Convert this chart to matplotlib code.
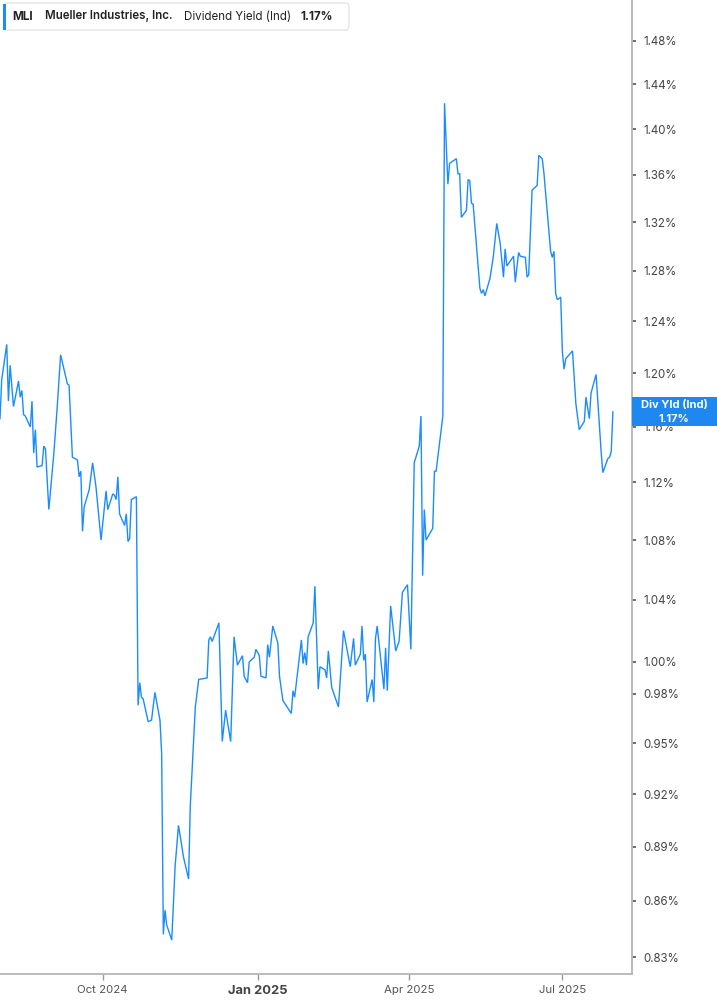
import matplotlib
matplotlib.use("Agg")
import matplotlib.pyplot as plt
import matplotlib.dates as mdates
from matplotlib.patches import FancyBboxPatch, Rectangle
from matplotlib.ticker import FixedLocator, FuncFormatter, NullLocator
import pandas as pd

plt.rcParams['font.family'] = ['Inter', 'DejaVu Sans']

# ---------------- data ----------------
dates = [
    "2024-08-01", "2024-08-02", "2024-08-05", "2024-08-06", "2024-08-07", "2024-08-09",
    "2024-08-12", "2024-08-13", "2024-08-14", "2024-08-15", "2024-08-16", "2024-08-19",
    "2024-08-20", "2024-08-21", "2024-08-22", "2024-08-23", "2024-08-26", "2024-08-27",
    "2024-08-28", "2024-08-30", "2024-09-02", "2024-09-04", "2024-09-06", "2024-09-10",
    "2024-09-11", "2024-09-13", "2024-09-16", "2024-09-17", "2024-09-18", "2024-09-19",
    "2024-09-20", "2024-09-23", "2024-09-25", "2024-09-27", "2024-09-30", "2024-10-03",
    "2024-10-04", "2024-10-07", "2024-10-08", "2024-10-09", "2024-10-10", "2024-10-11",
    "2024-10-14", "2024-10-15", "2024-10-16", "2024-10-17", "2024-10-18", "2024-10-21",
    "2024-10-22", "2024-10-23", "2024-10-24", "2024-10-25", "2024-10-28", "2024-10-30",
    "2024-11-01", "2024-11-04", "2024-11-05", "2024-11-06", "2024-11-07", "2024-11-08",
    "2024-11-11", "2024-11-13", "2024-11-15", "2024-11-18", "2024-11-21", "2024-11-22",
    "2024-11-25", "2024-11-27", "2024-12-02", "2024-12-03", "2024-12-04", "2024-12-05",
    "2024-12-09", "2024-12-11", "2024-12-13", "2024-12-16", "2024-12-18", "2024-12-20",
    "2024-12-23", "2024-12-24", "2024-12-26", "2024-12-27", "2024-12-30", "2024-12-31",
    "2025-01-02", "2025-01-03", "2025-01-06", "2025-01-07", "2025-01-08", "2025-01-10",
    "2025-01-13", "2025-01-14", "2025-01-16", "2025-01-21", "2025-01-22", "2025-01-23",
    "2025-01-27", "2025-01-28", "2025-01-29", "2025-01-30", "2025-01-31", "2025-02-03",
    "2025-02-04", "2025-02-06", "2025-02-07", "2025-02-10", "2025-02-11", "2025-02-12",
    "2025-02-14", "2025-02-18", "2025-02-21", "2025-02-25", "2025-02-27", "2025-02-28",
    "2025-03-03", "2025-03-04", "2025-03-05", "2025-03-06", "2025-03-07", "2025-03-10",
    "2025-03-11", "2025-03-12", "2025-03-13", "2025-03-17", "2025-03-18", "2025-03-19",
    "2025-03-21", "2025-03-24", "2025-03-26", "2025-03-28", "2025-03-31", "2025-04-02",
    "2025-04-04", "2025-04-07", "2025-04-08", "2025-04-09", "2025-04-10", "2025-04-11",
    "2025-04-15", "2025-04-16", "2025-04-17", "2025-04-21", "2025-04-22", "2025-04-24",
    "2025-04-25", "2025-04-29", "2025-04-30", "2025-05-01", "2025-05-02", "2025-05-05",
    "2025-05-06", "2025-05-07", "2025-05-08", "2025-05-09", "2025-05-13", "2025-05-14",
    "2025-05-15", "2025-05-16", "2025-05-19", "2025-05-21", "2025-05-23", "2025-05-25",
    "2025-05-27", "2025-05-28", "2025-05-29", "2025-06-02", "2025-06-03", "2025-06-05",
    "2025-06-06", "2025-06-09", "2025-06-10", "2025-06-11", "2025-06-13", "2025-06-16",
    "2025-06-17", "2025-06-19", "2025-06-20", "2025-06-24", "2025-06-25", "2025-06-26",
    "2025-06-27", "2025-06-28", "2025-06-30", "2025-07-01", "2025-07-02", "2025-07-03",
    "2025-07-07", "2025-07-09", "2025-07-11", "2025-07-14", "2025-07-15", "2025-07-17",
    "2025-07-18", "2025-07-21", "2025-07-24", "2025-07-25", "2025-07-28", "2025-07-29",
    "2025-07-30", "2025-07-31",
]

div_yield = [
    1.166, 1.195, 1.222, 1.179, 1.206, 1.175,
    1.194, 1.182, 1.187, 1.169, 1.168, 1.160,
    1.179, 1.141, 1.158, 1.131, 1.132, 1.146,
    1.144, 1.101, 1.141, 1.175, 1.214, 1.192,
    1.191, 1.138, 1.136, 1.124, 1.128, 1.086,
    1.103, 1.115, 1.134, 1.117, 1.080, 1.114,
    1.101, 1.112, 1.111, 1.108, 1.124, 1.098,
    1.090, 1.098, 1.079, 1.081, 1.108, 1.110,
    0.973, 0.987, 0.978, 0.977, 0.963, 0.964,
    0.981, 0.964, 0.944, 0.842, 0.855, 0.847,
    0.839, 0.879, 0.902, 0.884, 0.872, 0.913,
    0.972, 0.989, 0.990, 1.014, 1.016, 1.013,
    1.025, 0.951, 0.970, 0.951, 1.016, 0.998,
    1.004, 0.991, 0.987, 1.000, 1.003, 1.008,
    1.004, 0.991, 0.990, 1.011, 1.003, 1.023,
    1.012, 0.991, 0.976, 0.968, 0.982, 0.978,
    1.014, 0.999, 1.006, 0.998, 1.016, 1.025,
    1.049, 0.983, 0.997, 0.995, 0.990, 1.007,
    0.984, 0.972, 1.020, 0.997, 1.015, 0.998,
    1.005, 1.023, 1.001, 1.005, 0.975, 0.989,
    0.975, 1.015, 1.023, 0.983, 1.009, 0.982,
    1.036, 1.007, 1.013, 1.045, 1.050, 1.008,
    1.134, 1.146, 1.168, 1.056, 1.101, 1.080,
    1.088, 1.128, 1.128, 1.168, 1.423, 1.352,
    1.370, 1.374, 1.361, 1.361, 1.324, 1.330,
    1.356, 1.355, 1.336, 1.335, 1.266, 1.262,
    1.265, 1.260, 1.274, 1.292, 1.319, 1.303,
    1.275, 1.298, 1.284, 1.292, 1.271, 1.295,
    1.292, 1.291, 1.275, 1.277, 1.347, 1.351,
    1.377, 1.374, 1.362, 1.296, 1.291, 1.296,
    1.262, 1.257, 1.259, 1.216, 1.203, 1.211,
    1.217, 1.177, 1.158, 1.164, 1.182, 1.166,
    1.185, 1.199, 1.142, 1.127, 1.137, 1.138,
    1.142, 1.171,
]

y_ticks = [0.83, 0.86, 0.89, 0.92, 0.95, 0.98, 1.00, 1.04, 1.08, 1.12, 1.16,
           1.20, 1.24, 1.28, 1.32, 1.36, 1.40, 1.44, 1.48]
x_tick_dates = ["2024-10-01", "2025-01-01", "2025-04-01", "2025-07-01"]
x_tick_labels = ["Oct 2024", "Jan 2025", "Apr 2025", "Jul 2025"]

ticker_symbol = "MLI"
company = "Mueller Industries, Inc."
metric = "Dividend Yield (Ind)"
last_value = div_yield[-1]

# ---------------- figure ----------------
W, H = 717, 1005
fig = plt.figure(figsize=(W / 100, H / 100), dpi=100)
fig.patch.set_facecolor("white")


def fx(x):
    return x / W


def fy(y):
    return 1 - y / H


ax = fig.add_axes([0, fy(974), fx(632), 974 / H])
x = pd.to_datetime(dates)
line_color = "#1a8cff"
ax.plot(x, div_yield, color=line_color, lw=1.0, solid_joinstyle="miter")

ax.set_yscale("log")
ax.set_ylim(0.8212, 1.5188)
ax.set_xlim(pd.Timestamp("2024-08-01"), pd.Timestamp("2025-08-11 08:00"))

ax.yaxis.tick_right()
ax.yaxis.set_major_locator(FixedLocator(y_ticks))
ax.yaxis.set_minor_locator(NullLocator())
ax.yaxis.set_major_formatter(FuncFormatter(lambda v, p: f"{v:.2f}%"))
ax.tick_params(axis="y", which="major", length=3, width=1.2, color="#555555",
               labelsize=8.3, labelcolor="#444444", pad=5, direction="out")

ax.xaxis.set_major_locator(FixedLocator(mdates.date2num(pd.to_datetime(x_tick_dates))))
ax.set_xticklabels(x_tick_labels)
ax.tick_params(axis="x", length=4, width=1, color="#9a9a9a", labelsize=8.2,
               labelcolor="#555555", pad=4)
for lbl in ax.get_xticklabels():
    if lbl.get_text() == "Jan 2025":
        lbl.set_fontweight("bold")
        lbl.set_fontsize(9.3)
        lbl.set_color("#444444")

for s in ["top", "left"]:
    ax.spines[s].set_visible(False)
for s in ["right", "bottom"]:
    ax.spines[s].set_color("#b5b5b5")
    ax.spines[s].set_linewidth(1.3)
ax.grid(False)

# ---------------- header legend box ----------------
box = FancyBboxPatch((fx(4), fy(30)), fx(345), 27 / H,
                     boxstyle="round,pad=0,rounding_size=0.004",
                     transform=fig.transFigure, facecolor="white",
                     edgecolor="#e6e6e6", lw=1.0, zorder=5)
fig.patches.append(box)
bar = Rectangle((fx(3), fy(30)), fx(3), 26 / H, transform=fig.transFigure,
                facecolor="#1a8cff", edgecolor="none", zorder=6)
fig.patches.append(bar)

ty = fy(16.5)
fig.text(fx(12), ty, ticker_symbol, fontsize=8.4, fontweight="bold",
         color="#222222", va="center", ha="left", zorder=7)
fig.text(fx(45), ty, company, fontsize=8.3, fontweight="semibold",
         color="#222222", va="center", ha="left", zorder=7)
fig.text(fx(184), ty, metric, fontsize=8.3, color="#222222",
         va="center", ha="left", zorder=7)
fig.text(fx(300), ty, f"{last_value:.2f}%", fontsize=8.4, fontweight="bold",
         color="#222222", va="center", ha="left", zorder=7)

# ---------------- last value tag ----------------
tag = Rectangle((fx(632), fy(426)), fx(85), 29 / H, transform=fig.transFigure,
                facecolor="#1e88f0", edgecolor="none", zorder=8)
fig.patches.append(tag)
fig.text(fx(674), fy(405), "Div Yld (Ind)", fontsize=8.0, fontweight="bold",
         color="white", ha="center", va="center", zorder=9)
fig.text(fx(674), fy(418.5), f"{last_value:.2f}%", fontsize=8.0, fontweight="bold",
         color="white", ha="center", va="center", zorder=9)

fig.savefig("out.png", dpi=100, facecolor="white")
